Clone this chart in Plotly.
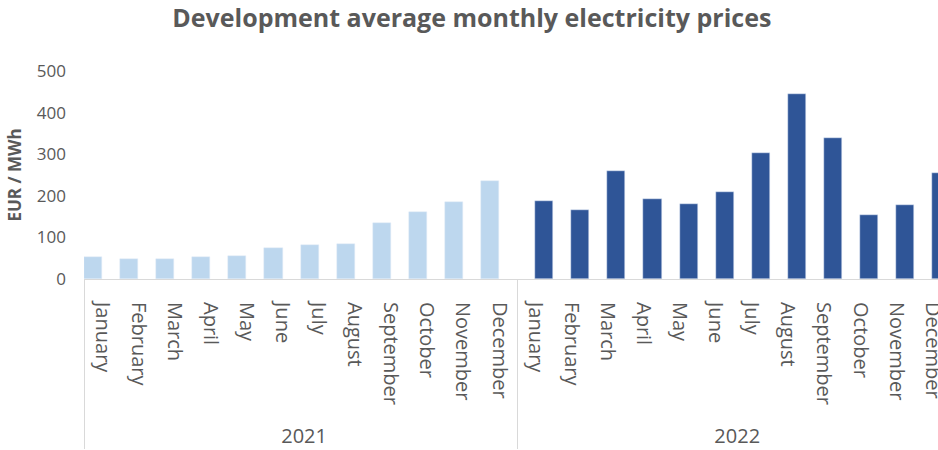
import plotly.graph_objects as go

months = ["January", "February", "March", "April", "May", "June", "July",
          "August", "September", "October", "November", "December"]
years = ["2021", "2022"]
prices_2021 = [52, 47, 47, 52, 55, 74, 82, 85, 135, 161, 185, 236]
prices_2022 = [188, 167, 260, 193, 180, 209, 304, 445, 340, 154, 177, 256]

# trailing no-break spaces only push the year row down (labels anchor at top)
pad = "\u00a0" * 3
x_years = [years[0]] * 12 + [years[1]] * 12
x_months = [m + pad for m in months] * 2
y21 = prices_2021 + [None] * 12
y22 = [None] * 12 + prices_2022

fig = go.Figure()
fig.add_trace(go.Bar(x=[x_years, x_months], y=y21, marker_color="#bdd7ee",
                     name="2021", showlegend=False))
fig.add_trace(go.Bar(x=[x_years, x_months], y=y22, marker_color="#2f5597",
                     name="2022", showlegend=False))

font_fam = "Open Sans, Liberation Sans, sans-serif"
fig.update_layout(
    width=938, height=450,
    margin=dict(l=84, r=0, t=71, b=171, autoexpand=False),
    paper_bgcolor="white", plot_bgcolor="white",
    barmode="group", bargap=0, bargroupgap=0,
    title=dict(text="<b>Development average monthly electricity prices</b>",
               x=0.503, xanchor="center", xref="container", y=0.96, yanchor="middle",
               font=dict(family=font_fam, size=25, color="#595959")),
    font=dict(family=font_fam, color="#595959"),
)
fig.update_xaxes(
    type="multicategory", range=[-0.5, 23.16], automargin=False,
    tickangle=90, tickfont=dict(size=20, color="#595959"),
    ticklabelstandoff=18,
    showline=True, linecolor="#d9d9d9", linewidth=1,
    showdividers=True, dividercolor="#d9d9d9", dividerwidth=1,
    ticks="", showgrid=False,
)
fig.update_yaxes(
    range=[0, 500], dtick=100, showgrid=False, zeroline=False, automargin=False,
    showline=False, ticks="", ticklabelstandoff=17,
    tickfont=dict(size=17, color="#595959"),
    title=dict(text="<b>EUR / MWh</b>", font=dict(size=17, color="#595959"),
               standoff=10),
)

fig.write_html("out.html", config={"displayModeBar": False},
               post_script="document.body.style.margin='0';document.body.style.overflow='hidden';")
